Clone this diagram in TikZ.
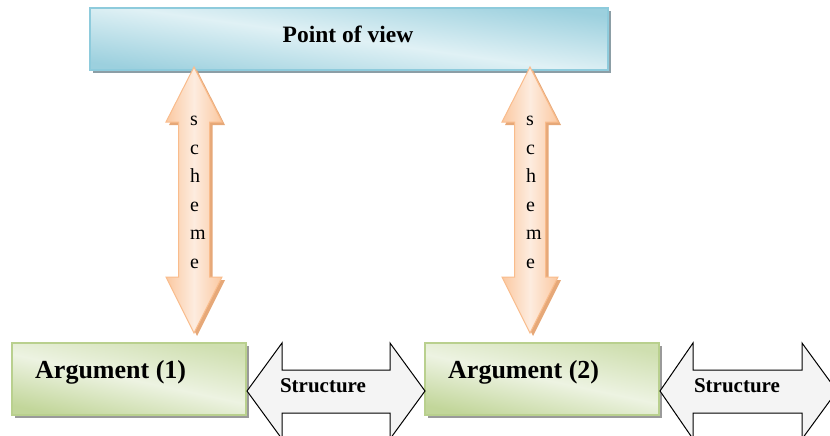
\documentclass[tikz,border=0pt]{standalone}
\usepackage{fontspec}
\setmainfont{Liberation Serif}
\definecolor{cyanEdge}{HTML}{9CD0DE}
\definecolor{cyanMid}{HTML}{E0F1F5}
\definecolor{cyanLine}{HTML}{8ECBDC}
\definecolor{cyanShadow}{HTML}{8C9EA6}
\definecolor{greenEdge}{HTML}{C2D69A}
\definecolor{greenMid}{HTML}{EDF3E2}
\definecolor{greenLine}{HTML}{B9D08E}
\definecolor{greenShadow}{HTML}{9A9A9A}
\definecolor{peachEdge}{HTML}{FBC8A0}
\definecolor{peachMid}{HTML}{FDECDF}
\definecolor{peachLine}{HTML}{F9BC8C}
\definecolor{peachShadow}{HTML}{E6A878}
\definecolor{structFill}{HTML}{F4F4F4}
\begin{document}
\begin{tikzpicture}[x=1pt,y=-1pt,
  povbox/.style={draw=cyanLine, line width=1.2pt, top color=cyanEdge, bottom color=cyanEdge, middle color=cyanMid, shading angle=-8},
  argbox/.style={draw=greenLine, line width=1.2pt, top color=greenEdge!70!greenMid, bottom color=greenEdge, middle color=greenMid, shading angle=-12},
  peacharrow/.style={draw=peachLine, line width=1pt, left color=peachEdge, right color=peachEdge, middle color=peachMid},
  structarrow/.style={draw=black, line width=1pt, fill=structFill},
  boldtext/.style={font=\bfseries\fontsize{#1}{#1}\selectfont, inner sep=0pt},
  letters/.style={font=\fontsize{20}{28.5}\selectfont, align=left, inner sep=0pt}
]
\useasboundingbox (0,0) rectangle (830,436);
\clip (0,0) rectangle (830,436);

% Point of view box
\fill[cyanShadow] (93,11) rectangle (611,73);
\path[povbox] (90,8) rectangle (608,70);
\node[boldtext=23.5] (pov) at (348,34) {Point of view};

% scheme arrows
\foreach \cx/\nm in {194/s1, 530/s2}{
  \fill[peachShadow] (\cx+3,70) -- (\cx+31,125) -- (\cx+18.5,125) -- (\cx+18.5,280) -- (\cx+31,280) -- (\cx+3,336) -- (\cx-25,280) -- (\cx-12.5,280) -- (\cx-12.5,125) -- (\cx-25,125) -- cycle;
  \path[peacharrow] (\cx,67) -- (\cx+28,122) -- (\cx+15.5,122) -- (\cx+15.5,277) -- (\cx+28,277) -- (\cx,333) -- (\cx-28,277) -- (\cx-15.5,277) -- (\cx-15.5,122) -- (\cx-28,122) -- cycle;
  \node[letters, anchor=north west] (\nm) at (\cx-4,116) {s\\c\\h\\e\\m\\e};
}

% Argument boxes
\fill[greenShadow] (15,346) rectangle (249,418);
\path[argbox] (12,343) rectangle (246,415);
\node[boldtext=26, anchor=west] (a1) at (35,372) {Argument (1)};
\fill[greenShadow] (428,346) rectangle (662,418);
\path[argbox] (425,343) rectangle (659,415);
\node[boldtext=26, anchor=west] (a2) at (448,372) {Argument (2)};

% Structure arrows
\path[structarrow] (247,391) -- (282,343) -- (282,370) -- (390,370) -- (390,343) -- (425,391) -- (390,439) -- (390,413) -- (282,413) -- (282,439) -- cycle;
\node[boldtext=21] (st1) at (323,386) {Structure};
\path[structarrow] (660,391) -- (693,343) -- (693,370) -- (802,370) -- (802,343) -- (837,391) -- (802,439) -- (802,413) -- (693,413) -- (693,439) -- cycle;
\node[boldtext=21] (st2) at (737,386) {Structure};
\end{tikzpicture}
\end{document}
